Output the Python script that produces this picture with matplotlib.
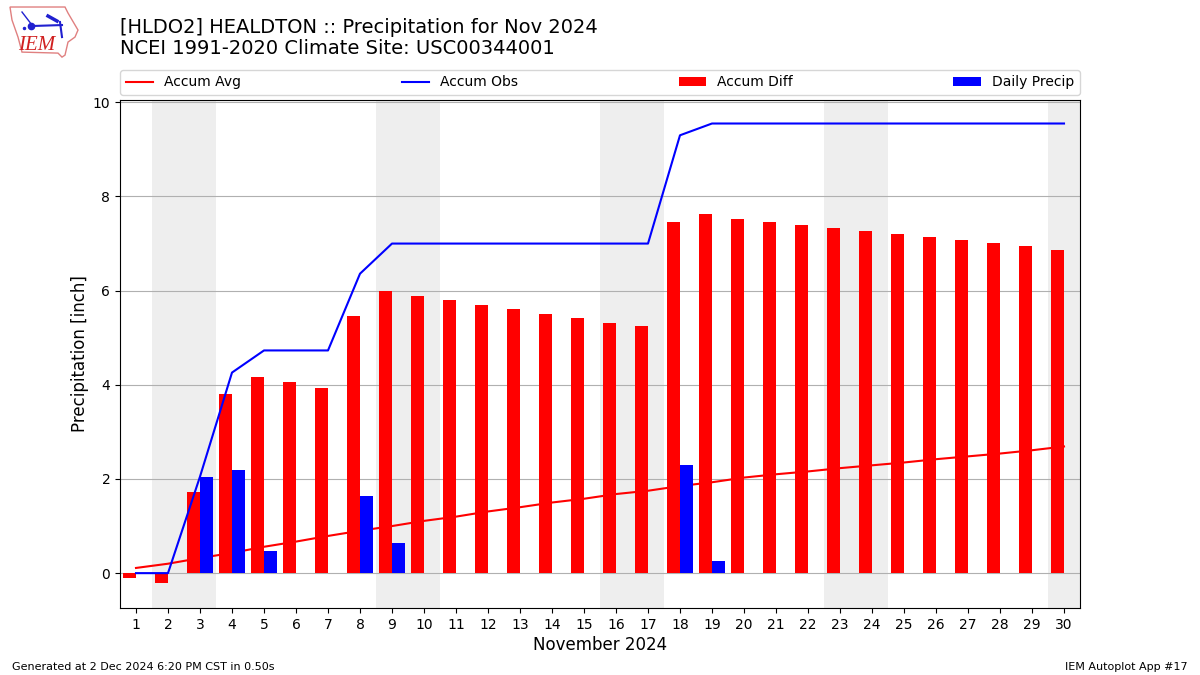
import matplotlib
matplotlib.use("Agg")
import matplotlib.pyplot as plt
from matplotlib.patches import Polygon

days = list(range(1, 31))
accum_avg = [0.11, 0.20, 0.32, 0.43, 0.56, 0.67, 0.79, 0.90, 1.00, 1.11,
             1.20, 1.31, 1.40, 1.50, 1.58, 1.68, 1.75, 1.85, 1.93, 2.03,
             2.10, 2.16, 2.23, 2.29, 2.35, 2.42, 2.48, 2.54, 2.61, 2.69]
accum_obs = [0.00, 0.00, 2.05, 4.26, 4.73, 4.73, 4.73, 6.36, 7.00, 7.00,
             7.00, 7.00, 7.00, 7.00, 7.00, 7.00, 7.00, 9.30, 9.55, 9.55,
             9.55, 9.55, 9.55, 9.55, 9.55, 9.55, 9.55, 9.55, 9.55, 9.55]
accum_diff = [-0.11, -0.20, 1.73, 3.81, 4.17, 4.06, 3.94, 5.46, 6.00, 5.89,
              5.80, 5.69, 5.60, 5.50, 5.42, 5.32, 5.25, 7.45, 7.62, 7.52,
              7.45, 7.39, 7.32, 7.26, 7.20, 7.13, 7.07, 7.01, 6.94, 6.86]
daily_precip = [0.00, 0.00, 2.05, 2.19, 0.47, 0.00, 0.00, 1.63, 0.64, 0.00,
                0.00, 0.00, 0.00, 0.00, 0.00, 0.00, 0.00, 2.30, 0.25, 0.00,
                0.00, 0.00, 0.00, 0.00, 0.00, 0.00, 0.00, 0.00, 0.00, 0.00]
weekends = [(1.5, 3.5), (8.5, 10.5), (15.5, 17.5), (22.5, 24.5), (29.5, 30.5)]

fig = plt.figure(figsize=(12, 6.75), dpi=100)
ax = fig.add_axes([0.1, 0.0993, 0.8, 0.7526])

for start, end in weekends:
    ax.axvspan(start, end, color="#eeeeee", lw=0, zorder=0)
ax.grid(True, axis="y", zorder=1)

ax.plot(days, accum_avg, color="r", label="Accum Avg", zorder=2)
ax.plot(days, accum_obs, color="b", label="Accum Obs", zorder=4)
ax.bar([d - 0.2 for d in days], accum_diff, width=0.4, color="r", label="Accum Diff", zorder=3)
ax.bar([d + 0.2 for d in days], daily_precip, width=0.4, color="b", label="Daily Precip", zorder=3)

ax.set_xlim(0.5, 30.5)
ax.set_ylim(-0.74, 10.05)
ax.set_xticks(days)
ax.set_xlabel("November 2024", fontsize=12, labelpad=3)
ax.set_ylabel("Precipitation [inch]", fontsize=12, labelpad=2.6)
ax.legend(ncol=4, mode="expand", loc="lower left", bbox_to_anchor=(0, 1.0098, 1, 0.05),
          borderaxespad=0, fontsize=10)

fig.text(0.1, 0.944, "[HLDO2] HEALDTON :: Precipitation for Nov 2024\nNCEI 1991-2020 Climate Site: USC00344001",
         fontsize=14, va="center", ha="left", linespacing=1.1)
fig.text(0.01, 0.012, "Generated at 2 Dec 2024 6:20 PM CST in 0.50s", fontsize=8, va="center")
fig.text(0.99, 0.012, "IEM Autoplot App #17", fontsize=8, va="center", ha="right")

# rough version of the logo
logo = fig.add_axes([0, 0.905, 0.07, 0.095])
logo.set_xlim(0, 84)
logo.set_ylim(64, 0)
logo.axis("off")
logo.add_patch(Polygon([(10, 7), (65, 7), (68, 13), (78, 30), (75, 37), (68, 42), (65, 55),
                        (62, 57), (58, 53), (22, 52), (18, 37), (12, 20)],
                       closed=True, fill=False, edgecolor="#e08080", lw=1))
logo.plot([31, 62], [26, 25], color="#2020d0", lw=1.5)
logo.plot([22, 32], [12, 25], color="#2020d0", lw=1)
logo.plot([60, 62], [22, 37], color="#2020d0", lw=1.5)
logo.plot([48, 57], [16, 21], color="#2020d0", lw=2.5)
logo.plot([31], [26], "o", color="#2020d0", ms=4.5)
logo.plot([24], [28], "o", color="#2020d0", ms=1.5)
logo.text(37, 45, "IEM", color="#d02020", fontsize=15, family="Liberation Serif", style="italic",
          ha="center", va="center")

fig.savefig("out.png", dpi=100)
